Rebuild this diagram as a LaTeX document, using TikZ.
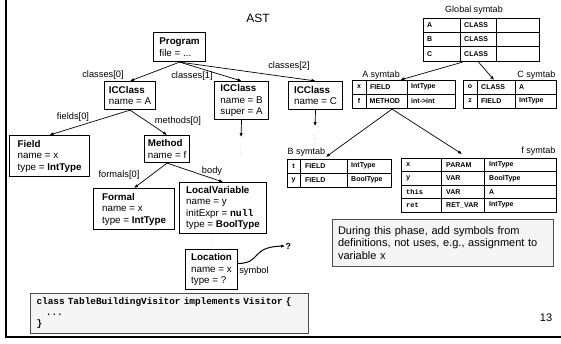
\documentclass[tikz,border=0pt]{standalone}
\usepackage{fontspec}
\setmainfont{Liberation Sans}
\setmonofont{Liberation Mono}
\usetikzlibrary{arrows.meta}

\tikzset{
  astbox/.style={draw, line width=1.1pt, fill=white, align=left, anchor=north west,
    inner sep=0pt, font=\fontsize{9.8}{11.5}\selectfont},
  edgelbl/.style={font=\fontsize{9.3}{10}\selectfont, inner sep=0.5pt},
  link/.style={line width=0.7pt, -{Latex[length=4pt,width=3.4pt]}},
  tabframe/.style={draw, line width=1.1pt, anchor=north west, inner sep=0pt},
  cellrule/.style={line width=0.7pt},
  celltxt/.style={font=\fontsize{7}{7}\selectfont\bfseries, anchor=west, inner sep=0pt},
  keytxt/.style={font=\fontsize{7}{7}\selectfont\bfseries, inner sep=0pt},
  monotxt/.style={font=\fontsize{7}{7}\selectfont\ttfamily\bfseries, anchor=west, inner sep=0pt},
  tabtitle/.style={font=\fontsize{9}{10}\selectfont, inner sep=0.5pt},
  vdotsnode/.style={font=\fontsize{5.5}{5.5}\selectfont, text=gray, inner sep=0pt},
  graybox/.style={draw=gray!60!black, line width=1pt, fill=gray!8, align=left,
    anchor=north west},
}

\begin{document}
\begin{tikzpicture}[x=1pt,y=-1pt]
\useasboundingbox (0,0) rectangle (561,343);

% slide frame
\draw[line width=2.5pt] (5.8,0) -- (5.8,337) -- (561,337);

% ---------- AST ----------
\node[font=\fontsize{12}{12}\selectfont] (asttitle) at (258,18) {AST};

\node[astbox, minimum width=52pt, minimum height=29pt] (prog) at (153,32)
  {\textbf{Program}\\file = ...};
\node[astbox, minimum width=51pt, minimum height=28pt] (clsA) at (104,81)
  {\textbf{ICClass}\\name = A};
\node[astbox, minimum width=54pt, minimum height=38pt] (clsB) at (214,81)
  {\textbf{ICClass}\\name = B\\super = A};
\node[astbox, minimum width=54pt, minimum height=28pt] (clsC) at (288,81)
  {\textbf{ICClass}\\name = C};
\node[font=\fontsize{5}{5}\selectfont, inner sep=0pt, text=gray] (clsCdots)
  at ([xshift=3pt,yshift=-3pt]clsC.north) {...};
\node[astbox, minimum width=80pt, minimum height=41pt] (field) at (9,135)
  {\textbf{Field}\\name = x\\type = \textbf{IntType}};
\node[astbox, minimum width=45pt, minimum height=27pt] (method) at (144,135)
  {\textbf{Method}\\name = f};
\node[astbox, minimum width=81pt, minimum height=41pt] (formal) at (93,188)
  {\textbf{Formal}\\name = x\\type = \textbf{IntType}};
\node[astbox, minimum width=87pt, minimum height=51pt] (lvar) at (179,182)
  {\textbf{LocalVariable}\\name = y\\initExpr = \texttt{\textbf{null}}\\type = \textbf{BoolType}};
\node[astbox, minimum width=52pt, minimum height=40pt] (loc) at (185,249)
  {\textbf{Location}\\name = x\\type = ?};

% AST edges
\draw[link] (prog.south) -- (clsA.north);
\draw[link] (prog.south) -- (clsB.north);
\draw[link] (prog.south) -- (clsC.north);
\draw[link] (clsA.south) -- (field.north);
\draw[link] (clsA.south) -- (method.north);
\draw[link] (method.south) -- (formal.north);
\draw[link] (method.south) -- (lvar.north);

\node[edgelbl] (lc0) at (103,75) {classes[0]};
\node[edgelbl] (lc1) at (192,76) {classes[1]};
\node[edgelbl] (lc2) at (289,66) {classes[2]};
\node[edgelbl] (lf0) at (73,117) {fields[0]};
\node[edgelbl] (lm0) at (178,121) {methods[0]};
\node[edgelbl] (lfo) at (119,175) {formals[0]};
\node[edgelbl] (lbd) at (212,171) {body};

% elided subtrees
\coordinate (endB) at (241,137);
\node[vdotsnode] (dotsB) at (241,147) {$\vdots$};
\draw[link] (clsB.south) -- (endB);
\coordinate (endC) at (315,126);
\node[vdotsnode] (dotsC) at (315,137) {$\vdots$};
\draw[link] (clsC.south) -- (endC);
\node[vdotsnode] (dotsL) at (213,240) {$\vdots$};

% unresolved symbol link
\node[font=\fontsize{9}{9}\selectfont\ttfamily\bfseries, inner sep=0.5pt, anchor=west]
  (qm) at (285,246) {?};
\draw[line width=1pt, -{Latex[length=4pt,width=3.4pt]}]
  ([yshift=6pt]loc.east) .. controls (262,263) and (250,247) .. (qm.west);
\node[edgelbl] (lsym) at (254,271) {symbol};

% ---------- symbol tables ----------
% Global
\node[tabtitle] (gttl) at (474,10) {Global symtab};
\node[tabframe, minimum width=116pt, minimum height=43pt] (gtab) at (423,18) {};
\draw[cellrule] (460,18) -- (460,61) (496,18) -- (496,61)
  (423,32.33) -- (539,32.33) (423,46.67) -- (539,46.67);
\foreach \k/\y in {A/25.17, B/39.5, C/53.83} {
  \node[celltxt] at (427,\y) {\k};
  \node[celltxt] at (464,\y) {CLASS};
}

% A symtab
\node[tabtitle] (attl) at (381,75) {A symtab};
\node[tabframe, minimum width=103pt, minimum height=28pt] (atab) at (352,80) {};
\draw[cellrule] (366,80) -- (366,108) (407,80) -- (407,108) (352,94) -- (455,94);
\node[keytxt] at (359,87) {x};
\node[celltxt] at (370,87) {FIELD};
\node[celltxt] at (411,87) {IntType};
\node[keytxt] at (359,101) {f};
\node[celltxt] at (369.5,101) {METHOD};
\node[celltxt] at (411,101) {int->int};

% C symtab
\node[tabtitle, anchor=east] (cttl) at (556,75) {C symtab};
\node[tabframe, minimum width=93pt, minimum height=28pt] (ctab) at (463,80) {};
\draw[cellrule] (477,80) -- (477,108) (515,80) -- (515,108) (463,94) -- (556,94);
\node[keytxt] at (470,87) {o};
\node[celltxt] at (481,87) {CLASS};
\node[celltxt] at (519,87) {A};
\node[keytxt] at (470,101) {z};
\node[celltxt] at (481,101) {FIELD};
\node[celltxt] at (519,101) {IntType};

% B symtab
\node[tabtitle, anchor=west] (bttl) at (287,152) {B symtab};
\node[tabframe, minimum width=104pt, minimum height=28pt] (btab) at (287,159) {};
\draw[cellrule] (300,159) -- (300,187) (347,159) -- (347,187) (287,173) -- (391,173);
\node[keytxt] at (293.5,166) {t};
\node[celltxt] at (305,166) {FIELD};
\node[celltxt] at (351,166) {IntType};
\node[keytxt] at (293.5,180) {y};
\node[celltxt] at (305,180) {FIELD};
\node[celltxt] at (351,180) {BoolType};

% f symtab
\node[tabtitle, anchor=east] (fttl) at (556,151) {f symtab};
\node[tabframe, minimum width=155pt, minimum height=54pt] (ftab) at (401,158) {};
\draw[cellrule] (441,158) -- (441,212) (484,158) -- (484,212)
  (401,171.5) -- (556,171.5) (401,185) -- (556,185) (401,198.5) -- (556,198.5);
\foreach \k/\kind/\ty/\y in {x/PARAM/IntType/164.75, y/VAR/BoolType/178.25,
                              this/VAR/A/191.75, ret/RET\_VAR/IntType/205.25} {
  \node[monotxt] at (406,\y) {\k};
  \node[celltxt] at (446,\y) {\kind};
  \node[celltxt] at (489,\y) {\ty};
}

% scope links
\draw[link] ([xshift=-19pt]gtab.south) -- (attl.south east);
\draw[link] ([xshift=-3pt]gtab.south) -- ([xshift=-16pt]ctab.north);
\draw[link] ([xshift=-12pt]atab.south) -- (bttl.south east);
\draw[link] ([xshift=-12pt]atab.south) -- ([xshift=-17pt,yshift=4pt]ftab.north);

% ---------- note and code ----------
\node[graybox, text width=210pt, inner xsep=5.5pt, minimum height=47pt,
  font=\fontsize{11}{12.5}\selectfont] (note) at (332,219)
  {During this phase, add symbols from\\definitions, not uses, e.g., assignment to\\variable x};

\node[graybox, text width=266pt, inner xsep=6pt, minimum height=40pt,
  font=\fontsize{9.4}{11}\selectfont\ttfamily\bfseries] (code) at (30,293)
  {class TableBuildingVisitor implements Visitor \{\\\ \ \ ...\\\}};

\node[font=\fontsize{11}{11}\selectfont] (pgnum) at (546,318) {13};
\end{tikzpicture}
\end{document}
